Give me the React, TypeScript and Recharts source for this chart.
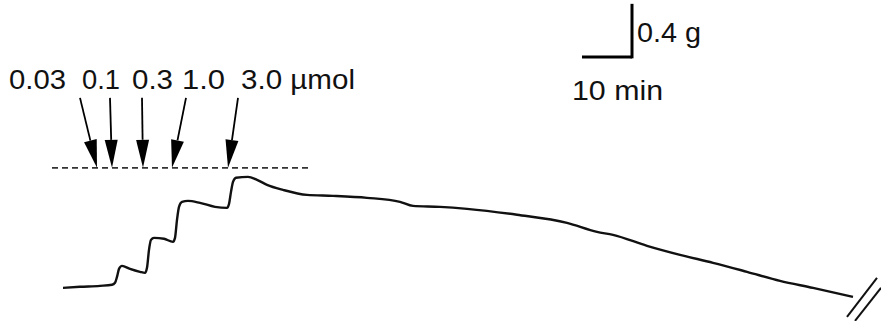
import { LineChart, Line, XAxis, YAxis, ReferenceLine, ReferenceDot } from "recharts"

// time in minutes, tension in grams
const times = [
  0.6, 4.0, 8.0, 10.4, 11.0, 11.4, 11.8, 12.4, 14.0, 16.0, 17.0, 17.4, 17.8, 18.2, 18.8, 20.8, 22.6, 23.0,
  23.4, 23.8, 24.4, 25.6, 28.0, 31.0, 33.4, 33.8, 34.2, 34.6, 35.2, 37.6, 39.4, 41.4, 44.6, 49.4, 54.6, 61.4,
  68.0, 70.6, 76.0, 81.4, 91.4, 101.4, 107.4, 110.6, 117.4, 124.0, 130.6, 137.4, 144.0, 150.6, 158.6,
]
const tension = [
  0.0, 0.008, 0.015, 0.023, 0.038, 0.083, 0.143, 0.166, 0.143, 0.121, 0.113, 0.151, 0.287, 0.362, 0.377, 0.37,
  0.347, 0.377, 0.513, 0.611, 0.649, 0.656, 0.641, 0.611, 0.603, 0.633, 0.724, 0.799, 0.83, 0.837, 0.814,
  0.777, 0.739, 0.701, 0.694, 0.679, 0.649, 0.618, 0.611, 0.596, 0.551, 0.49, 0.422, 0.4, 0.317, 0.249,
  0.189, 0.121, 0.053, 0.0, -0.068,
]

// doses: label, arrow tip time, arrow tail time, label start time
const doseLabels = ["0.03", "0.1", "0.3", "1.0", "3.0 \u00b5mol"]
const doseTimes = [7.4, 10.4, 16.6, 22.4, 33.6]
const tailTimes = [4.0, 10.0, 16.4, 25.2, 35.6]
const labelTimes = [-10.2, 4.4, 14.4, 24.4, 36.2]
const labelWidths = [57, 38, 41, 43, 114]

const baselineLevel = 0.905
const tailLevel = 1.433
const labelLevel = 1.501

const scaleMinutes = 10
const scaleGrams = 0.4

const data = times.map((t, i) => ({ t, g: tension[i] }))

const FONT = "'Liberation Sans', Arial, Helvetica, sans-serif"

const Arrow = (props: any) => {
  const { x1, y1, x2, y2 } = props
  const dx = x2 - x1
  const dy = y2 - y1
  const len = Math.sqrt(dx * dx + dy * dy)
  const ux = dx / len
  const uy = dy / len
  const head = 28
  const half = 6.5
  const bx = x2 - ux * head
  const by = y2 - uy * head
  const pts = `${x2},${y2} ${bx - uy * half},${by + ux * half} ${bx + uy * half},${by - ux * half}`
  return (
    <g>
      <line x1={x1} y1={y1} x2={bx} y2={by} stroke="#000" strokeWidth={1.8} />
      <polygon points={pts} fill="#000" />
    </g>
  )
}

const label = (text: string, width: number) => (props: any) => (
  <text
    x={props.cx}
    y={props.cy}
    fontFamily={FONT}
    fontSize={27}
    fill="#111"
    textLength={width}
    lengthAdjust="spacingAndGlyphs"
  >
    {text}
  </text>
)

export default function App() {
  const cornerT = 114.4
  const cornerG = 1.742
  return (
    <div style={{ position: "fixed", left: 0, top: 0, width: 881, height: 321, background: "#fff" }}>
      <LineChart width={881} height={321} data={data} margin={{ top: 0, right: 0, bottom: 0, left: 0 }}>
        <XAxis dataKey="t" type="number" domain={[-12, 164.2]} hide />
        <YAxis type="number" domain={[-0.25, 2.171]} hide />
        <ReferenceLine
          segment={[{ x: -1.6, y: baselineLevel }, { x: 50.4, y: baselineLevel }]}
          stroke="#333"
          strokeWidth={1.8}
          strokeDasharray="6 4"
          ifOverflow="visible"
        />
        {doseTimes.map((t, i) => (
          <ReferenceLine
            key={`arrow-${i}`}
            segment={[{ x: tailTimes[i], y: tailLevel }, { x: t, y: baselineLevel }]}
            shape={Arrow}
            ifOverflow="visible"
          />
        ))}
        {doseLabels.map((s, i) => (
          <ReferenceDot
            key={`lab-${i}`}
            x={labelTimes[i]}
            y={labelLevel}
            r={0}
            shape={label(s, labelWidths[i])}
            ifOverflow="visible"
          />
        ))}
        <Line
          type="monotone"
          dataKey="g"
          stroke="#111"
          strokeWidth={2.4}
          dot={false}
          activeDot={false}
          isAnimationActive={false}
        />
        {/* scale bar */}
        <ReferenceLine
          segment={[{ x: cornerT - scaleMinutes, y: cornerG }, { x: cornerT, y: cornerG }]}
          stroke="#000"
          strokeWidth={3}
          ifOverflow="visible"
        />
        <ReferenceLine
          segment={[{ x: cornerT, y: cornerG - 0.011 }, { x: cornerT, y: cornerG + scaleGrams }]}
          stroke="#000"
          strokeWidth={3}
          ifOverflow="visible"
        />
        <ReferenceDot x={115.4} y={1.855} r={0} shape={label("0.4 g", 64)} ifOverflow="visible" />
        <ReferenceDot x={102.4} y={1.418} r={0} shape={label("10 min", 91)} ifOverflow="visible" />
        {/* axis break */}
        <ReferenceLine
          segment={[{ x: 157.4, y: -0.219 }, { x: 163.4, y: 0.075 }]}
          stroke="#111"
          strokeWidth={2}
          ifOverflow="visible"
        />
        <ReferenceLine
          segment={[{ x: 159.0, y: -0.249 }, { x: 164.2, y: 0.0 }]}
          stroke="#111"
          strokeWidth={2}
          ifOverflow="visible"
        />
      </LineChart>
    </div>
  )
}
